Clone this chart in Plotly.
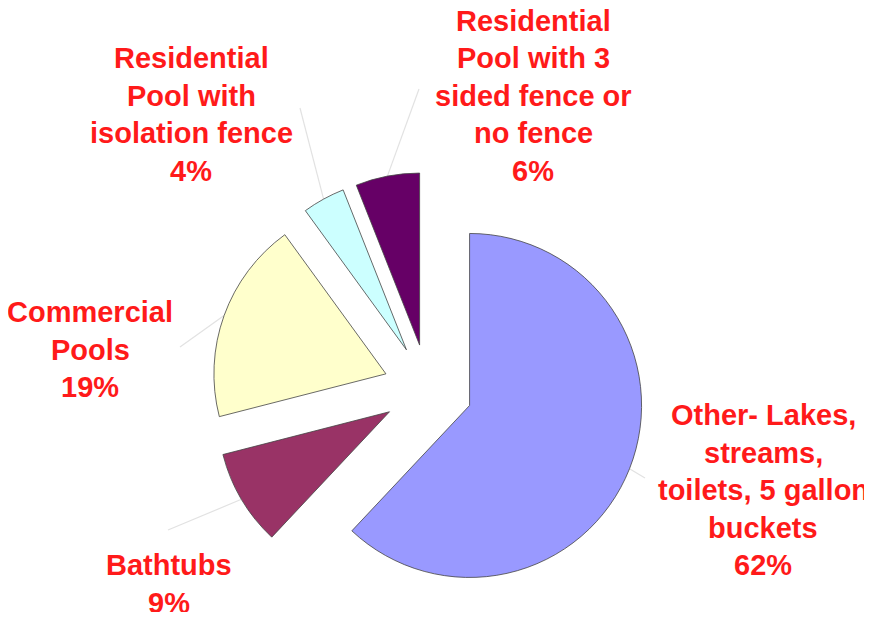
import math
import plotly.graph_objects as go

# ---- data ----
categories = [
    ["Other- Lakes,", "streams,", "toilets, 5 gallon", "buckets"],
    ["Bathtubs"],
    ["Commercial", "Pools"],
    ["Residential", "Pool with", "isolation fence"],
    ["Residential", "Pool with 3", "sided fence or", "no fence"],
]
values = [62, 9, 19, 4, 6]
colors = ["#9999FF", "#993366", "#FFFFCC", "#CCFFFF", "#660066"]

# ---- layout constants (window pixels; page body has an 8px margin) ----
OFF = 8
W, H = 872 - OFF, 620 - 2 * OFF
R = 172            # pie radius (px)
PULL = 0.26        # explode fraction
CX, CY = 428, 389  # pie centre (window px)
LINE = 37.5        # label line spacing (px)
# label: centre x, y of first line (window px)
label_pos = [(763, 415), (169, 565), (90, 312), (191, 58), (533, 21)]
# label-side end of each leader line (window px)
leader_start = [(645, 478), (168, 530), (180, 347), (300, 108), (419, 89)]


def fx(x):
    return (x - OFF) / W


def fy(y):
    return 1 - (y - OFF) / H


half = R * (1 + PULL)
domain_x = [fx(CX - half), fx(CX + half)]
domain_y = [fy(CY + half), fy(CY - half)]

fig = go.Figure()
fig.add_trace(go.Pie(
    labels=[" ".join(c) for c in categories],
    values=values,
    sort=False,
    direction="clockwise",
    rotation=0,
    pull=[PULL] * len(values),
    marker=dict(colors=colors, line=dict(color="#444444", width=0.8)),
    textinfo="none",
    hoverinfo="label+percent",
    showlegend=False,
    domain=dict(x=domain_x, y=domain_y),
))

total = sum(values)
cum = 0
for lines, v, (lx, ly), (sx, sy) in zip(categories, values, label_pos, leader_start):
    mid = (cum + v / 2) / total * 2 * math.pi
    cum += v
    dist = R * (1 + PULL)
    px = CX + dist * math.sin(mid)
    py = CY - dist * math.cos(mid)
    # faint leader line from label to slice outer-arc midpoint
    fig.add_shape(
        type="line", xref="paper", yref="paper",
        x0=fx(sx), y0=fy(sy), x1=fx(px), y1=fy(py),
        line=dict(color="#e2e2e2", width=1.2), layer="below",
    )
    for i, t in enumerate(lines + [f"{v}%"]):
        fig.add_annotation(
            x=fx(lx), y=fy(ly + i * LINE), xref="paper", yref="paper",
            text=t, showarrow=False, xanchor="center", yanchor="middle",
            font=dict(family="Liberation Sans, Arial, sans-serif", size=29,
                      color="#FF1A1A", weight="bold"),
        )

fig.update_layout(
    width=W, height=H,
    margin=dict(l=0, r=0, t=0, b=0),
    paper_bgcolor="white",
    plot_bgcolor="white",
)

fig.write_html("out.html")
